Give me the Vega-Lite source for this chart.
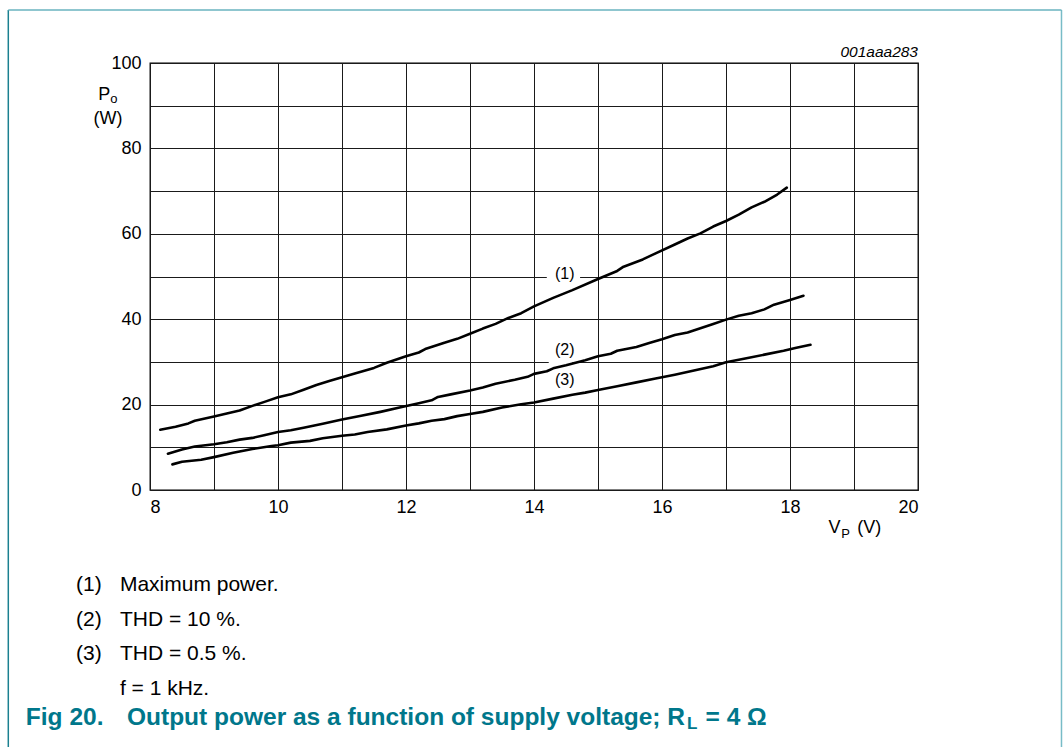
{
  "$schema": "https://vega.github.io/schema/vega-lite/v6.json",
  "width": 768,
  "height": 427,
  "autosize": {"type": "none"},
  "padding": {"left": 150, "top": 63, "right": 145, "bottom": 257},
  "background": "#ffffff",
  "config": {
    "font": "Liberation Sans",
    "view": {"stroke": "#000000", "strokeWidth": 1.3},
    "axis": {"grid": true, "gridColor": "#1a1a1a", "gridWidth": 1, "ticks": false, "domain": false, "labelFontSize": 18, "labelColor": "#000000", "labelFont": "Liberation Sans", "title": null}
  },
  "datasets": {
    "curves": [
      {"curve": "1", "v": 8.16, "p": 14.1}, {"curve": "1", "v": 8.4, "p": 14.8}, {"curve": "1", "v": 8.6, "p": 15.6}, {"curve": "1", "v": 8.7, "p": 16.2},
      {"curve": "1", "v": 9.0, "p": 17.2}, {"curve": "1", "v": 9.2, "p": 17.9}, {"curve": "1", "v": 9.4, "p": 18.6}, {"curve": "1", "v": 9.6, "p": 19.7},
      {"curve": "1", "v": 9.8, "p": 20.7}, {"curve": "1", "v": 10.0, "p": 21.7}, {"curve": "1", "v": 10.2, "p": 22.4}, {"curve": "1", "v": 10.4, "p": 23.5},
      {"curve": "1", "v": 10.6, "p": 24.6}, {"curve": "1", "v": 10.8, "p": 25.5}, {"curve": "1", "v": 11.0, "p": 26.4}, {"curve": "1", "v": 11.2, "p": 27.3},
      {"curve": "1", "v": 11.5, "p": 28.6}, {"curve": "1", "v": 11.7, "p": 29.8}, {"curve": "1", "v": 12.0, "p": 31.3}, {"curve": "1", "v": 12.2, "p": 32.2},
      {"curve": "1", "v": 12.3, "p": 33.0}, {"curve": "1", "v": 12.6, "p": 34.5}, {"curve": "1", "v": 12.8, "p": 35.4}, {"curve": "1", "v": 13.0, "p": 36.6},
      {"curve": "1", "v": 13.2, "p": 37.8}, {"curve": "1", "v": 13.4, "p": 38.9}, {"curve": "1", "v": 13.6, "p": 40.3}, {"curve": "1", "v": 13.8, "p": 41.4},
      {"curve": "1", "v": 14.0, "p": 43.0}, {"curve": "1", "v": 14.3, "p": 45.0}, {"curve": "1", "v": 14.6, "p": 46.8}, {"curve": "1", "v": 15.0, "p": 49.4},
      {"curve": "1", "v": 15.3, "p": 51.3}, {"curve": "1", "v": 15.4, "p": 52.3}, {"curve": "1", "v": 15.7, "p": 54.0}, {"curve": "1", "v": 15.9, "p": 55.4},
      {"curve": "1", "v": 16.2, "p": 57.5}, {"curve": "1", "v": 16.4, "p": 58.9}, {"curve": "1", "v": 16.6, "p": 60.1}, {"curve": "1", "v": 16.8, "p": 61.7},
      {"curve": "1", "v": 17.0, "p": 63.0}, {"curve": "1", "v": 17.2, "p": 64.5}, {"curve": "1", "v": 17.4, "p": 66.2}, {"curve": "1", "v": 17.6, "p": 67.5},
      {"curve": "1", "v": 17.8, "p": 69.2}, {"curve": "1", "v": 17.95, "p": 70.8},
      {"curve": "2", "v": 8.28, "p": 8.5}, {"curve": "2", "v": 8.5, "p": 9.5}, {"curve": "2", "v": 8.7, "p": 10.2}, {"curve": "2", "v": 9.0, "p": 10.7},
      {"curve": "2", "v": 9.2, "p": 11.2}, {"curve": "2", "v": 9.4, "p": 11.8}, {"curve": "2", "v": 9.6, "p": 12.2}, {"curve": "2", "v": 9.8, "p": 12.9},
      {"curve": "2", "v": 10.0, "p": 13.6}, {"curve": "2", "v": 10.2, "p": 14.0}, {"curve": "2", "v": 10.4, "p": 14.6}, {"curve": "2", "v": 10.7, "p": 15.5},
      {"curve": "2", "v": 11.0, "p": 16.5}, {"curve": "2", "v": 11.3, "p": 17.4}, {"curve": "2", "v": 11.6, "p": 18.3}, {"curve": "2", "v": 11.9, "p": 19.3},
      {"curve": "2", "v": 12.2, "p": 20.3}, {"curve": "2", "v": 12.4, "p": 21.0}, {"curve": "2", "v": 12.5, "p": 21.8}, {"curve": "2", "v": 12.7, "p": 22.4},
      {"curve": "2", "v": 13.0, "p": 23.3}, {"curve": "2", "v": 13.2, "p": 24.0}, {"curve": "2", "v": 13.4, "p": 24.9}, {"curve": "2", "v": 13.7, "p": 25.8},
      {"curve": "2", "v": 13.9, "p": 26.5}, {"curve": "2", "v": 14.0, "p": 27.2}, {"curve": "2", "v": 14.2, "p": 27.8}, {"curve": "2", "v": 14.3, "p": 28.5},
      {"curve": "2", "v": 14.5, "p": 29.2}, {"curve": "2", "v": 14.8, "p": 30.4}, {"curve": "2", "v": 15.0, "p": 31.3}, {"curve": "2", "v": 15.2, "p": 31.9},
      {"curve": "2", "v": 15.3, "p": 32.6}, {"curve": "2", "v": 15.6, "p": 33.5}, {"curve": "2", "v": 15.8, "p": 34.4}, {"curve": "2", "v": 16.0, "p": 35.3},
      {"curve": "2", "v": 16.2, "p": 36.3}, {"curve": "2", "v": 16.4, "p": 36.9}, {"curve": "2", "v": 16.6, "p": 37.9}, {"curve": "2", "v": 16.8, "p": 38.9},
      {"curve": "2", "v": 17.0, "p": 39.9}, {"curve": "2", "v": 17.2, "p": 40.8}, {"curve": "2", "v": 17.4, "p": 41.4}, {"curve": "2", "v": 17.6, "p": 42.3},
      {"curve": "2", "v": 17.75, "p": 43.4}, {"curve": "2", "v": 18.0, "p": 44.5}, {"curve": "2", "v": 18.21, "p": 45.5},
      {"curve": "3", "v": 8.35, "p": 6.0}, {"curve": "3", "v": 8.5, "p": 6.6}, {"curve": "3", "v": 8.8, "p": 7.1}, {"curve": "3", "v": 9.0, "p": 7.7},
      {"curve": "3", "v": 9.3, "p": 8.7}, {"curve": "3", "v": 9.6, "p": 9.6}, {"curve": "3", "v": 9.9, "p": 10.3}, {"curve": "3", "v": 10.0, "p": 10.5},
      {"curve": "3", "v": 10.2, "p": 11.1}, {"curve": "3", "v": 10.5, "p": 11.5}, {"curve": "3", "v": 10.7, "p": 12.1}, {"curve": "3", "v": 11.0, "p": 12.7},
      {"curve": "3", "v": 11.2, "p": 13.0}, {"curve": "3", "v": 11.4, "p": 13.6}, {"curve": "3", "v": 11.7, "p": 14.2}, {"curve": "3", "v": 12.0, "p": 15.1},
      {"curve": "3", "v": 12.2, "p": 15.6}, {"curve": "3", "v": 12.4, "p": 16.2}, {"curve": "3", "v": 12.6, "p": 16.6}, {"curve": "3", "v": 12.8, "p": 17.3},
      {"curve": "3", "v": 13.0, "p": 17.8}, {"curve": "3", "v": 13.2, "p": 18.3}, {"curve": "3", "v": 13.5, "p": 19.3}, {"curve": "3", "v": 13.8, "p": 20.1},
      {"curve": "3", "v": 14.0, "p": 20.5}, {"curve": "3", "v": 14.3, "p": 21.4}, {"curve": "3", "v": 14.6, "p": 22.3}, {"curve": "3", "v": 14.8, "p": 22.8},
      {"curve": "3", "v": 15.0, "p": 23.4}, {"curve": "3", "v": 15.3, "p": 24.3}, {"curve": "3", "v": 15.6, "p": 25.2}, {"curve": "3", "v": 15.9, "p": 26.1},
      {"curve": "3", "v": 16.2, "p": 27.0}, {"curve": "3", "v": 16.5, "p": 28.0}, {"curve": "3", "v": 16.8, "p": 29.0}, {"curve": "3", "v": 17.0, "p": 29.9},
      {"curve": "3", "v": 17.3, "p": 30.8}, {"curve": "3", "v": 17.6, "p": 31.7}, {"curve": "3", "v": 17.9, "p": 32.6}, {"curve": "3", "v": 18.1, "p": 33.3},
      {"curve": "3", "v": 18.32, "p": 34.0}
    ],
    "labelBoxes": [
      {"v": 14.2, "v2": 14.72, "p": 48.0, "p2": 53.0},
      {"v": 14.23, "v2": 14.6, "p": 29.4, "p2": 36.0}
    ],
    "curveLabels": [
      {"t": "(1)", "v": 14.48, "p": 50.5},
      {"t": "(2)", "v": 14.48, "p": 32.8},
      {"t": "(3)", "v": 14.48, "p": 25.8}
    ],
    "notes": [
      {"t": "(1)", "v": 6.844, "p": -22.25},
      {"t": "Maximum power.", "v": 7.53, "p": -22.25},
      {"t": "(2)", "v": 6.844, "p": -30.4},
      {"t": "THD = 10 %.", "v": 7.53, "p": -30.4},
      {"t": "(3)", "v": 6.844, "p": -38.4},
      {"t": "THD = 0.5 %.", "v": 7.53, "p": -38.4},
      {"t": "f = 1 kHz.", "v": 7.53, "p": -46.6}
    ],
    "frame": [
      {"v": 5.786, "v2": 5.786, "p": 112.4, "p2": -61, "c": "left"},
      {"v": 22.242, "v2": 22.242, "p": 112.4, "p2": -61, "c": "right"},
      {"v": 5.786, "v2": 22.242, "p": 112.4, "p2": 112.4, "c": "top"}
    ]
  },
  "layer": [
    {
      "data": {"name": "frame"},
      "mark": {"type": "rule", "strokeWidth": 1.5, "clip": false},
      "encoding": {
        "x": {"field": "v", "type": "quantitative", "scale": {"domain": [8, 20], "nice": false, "zero": false},
          "axis": {"values": [8, 9, 10, 11, 12, 13, 14, 15, 16, 17, 18, 19, 20], "format": "d", "labelExpr": "datum.value % 2 === 0 ? datum.label : ''", "labelPadding": 8}},
        "x2": {"field": "v2"},
        "y": {"field": "p", "type": "quantitative", "scale": {"domain": [0, 100], "nice": false, "zero": false},
          "axis": {"values": [0, 10, 20, 30, 40, 50, 60, 70, 80, 90, 100], "format": "d", "labelExpr": "datum.value % 20 === 0 ? datum.label : ''", "labelPadding": 9}},
        "y2": {"field": "p2"},
        "color": {"field": "c", "type": "nominal", "scale": {"domain": ["left", "right", "top"], "range": ["#1b8090", "#78bcc7", "#6ab3bf"]}, "legend": null}
      }
    },
    {
      "data": {"name": "labelBoxes"},
      "mark": {"type": "rect", "color": "#ffffff"},
      "encoding": {
        "x": {"field": "v", "type": "quantitative"},
        "x2": {"field": "v2"},
        "y": {"field": "p", "type": "quantitative"},
        "y2": {"field": "p2"}
      }
    },
    {
      "data": {"name": "curves"},
      "mark": {"type": "line", "color": "#000000", "strokeWidth": 2.6, "strokeJoin": "round", "strokeCap": "round"},
      "encoding": {
        "x": {"field": "v", "type": "quantitative"},
        "y": {"field": "p", "type": "quantitative"},
        "detail": {"field": "curve", "type": "nominal"}
      }
    },
    {
      "data": {"name": "curveLabels"},
      "mark": {"type": "text", "fontSize": 16, "color": "#000000", "align": "center", "baseline": "middle"},
      "encoding": {
        "x": {"field": "v", "type": "quantitative"},
        "y": {"field": "p", "type": "quantitative"},
        "text": {"field": "t"}
      }
    },
    {
      "data": {"name": "notes"},
      "mark": {"type": "text", "fontSize": 21, "color": "#000000", "align": "left", "baseline": "middle", "clip": false},
      "encoding": {
        "x": {"field": "v", "type": "quantitative"},
        "y": {"field": "p", "type": "quantitative"},
        "text": {"field": "t"}
      }
    },
    {
      "data": {"values": [{}]},
      "mark": {"type": "text", "text": "001aaa283", "fontSize": 15.5, "fontStyle": "italic", "color": "#000000", "align": "right", "baseline": "middle"},
      "encoding": {"x": {"datum": 20}, "y": {"datum": 102.6}}
    },
    {
      "data": {"values": [{}]},
      "mark": {"type": "text", "text": "P", "fontSize": 18, "color": "#000000", "align": "left", "baseline": "middle"},
      "encoding": {"x": {"datum": 7.19}, "y": {"datum": 92.4}}
    },
    {
      "data": {"values": [{}]},
      "mark": {"type": "text", "text": "o", "fontSize": 13, "color": "#000000", "align": "left", "baseline": "middle"},
      "encoding": {"x": {"datum": 7.38}, "y": {"datum": 91.5}}
    },
    {
      "data": {"values": [{}]},
      "mark": {"type": "text", "text": "(W)", "fontSize": 18, "color": "#000000", "align": "center", "baseline": "middle"},
      "encoding": {"x": {"datum": 7.344}, "y": {"datum": 86.9}}
    },
    {
      "data": {"values": [{}]},
      "mark": {"type": "text", "text": "V", "fontSize": 18, "color": "#000000", "align": "left", "baseline": "middle"},
      "encoding": {"x": {"datum": 18.6}, "y": {"datum": -8.9}}
    },
    {
      "data": {"values": [{}]},
      "mark": {"type": "text", "text": "P", "fontSize": 13, "color": "#000000", "align": "left", "baseline": "middle"},
      "encoding": {"x": {"datum": 18.8}, "y": {"datum": -10.3}}
    },
    {
      "data": {"values": [{}]},
      "mark": {"type": "text", "text": "(V)", "fontSize": 18, "color": "#000000", "align": "left", "baseline": "middle"},
      "encoding": {"x": {"datum": 19.05}, "y": {"datum": -8.9}}
    },
    {
      "data": {"values": [{}]},
      "mark": {"type": "text", "text": "Fig 20.", "fontSize": 24.5, "fontWeight": "bold", "color": "#00778b", "align": "left", "baseline": "middle"},
      "encoding": {"x": {"datum": 6.06}, "y": {"datum": -53.4}}
    },
    {
      "data": {"values": [{}]},
      "mark": {"type": "text", "text": "Output power as a function of supply voltage; R", "fontSize": 24.5, "fontWeight": "bold", "color": "#00778b", "align": "left", "baseline": "middle"},
      "encoding": {"x": {"datum": 7.64}, "y": {"datum": -53.4}}
    },
    {
      "data": {"values": [{}]},
      "mark": {"type": "text", "text": "L", "fontSize": 17, "fontWeight": "bold", "color": "#00778b", "align": "left", "baseline": "middle"},
      "encoding": {"x": {"datum": 16.39}, "y": {"datum": -54.7}}
    },
    {
      "data": {"values": [{}]},
      "mark": {"type": "text", "text": "= 4 Ω", "fontSize": 24.5, "fontWeight": "bold", "color": "#00778b", "align": "left", "baseline": "middle"},
      "encoding": {"x": {"datum": 16.68}, "y": {"datum": -53.4}}
    }
  ]
}
